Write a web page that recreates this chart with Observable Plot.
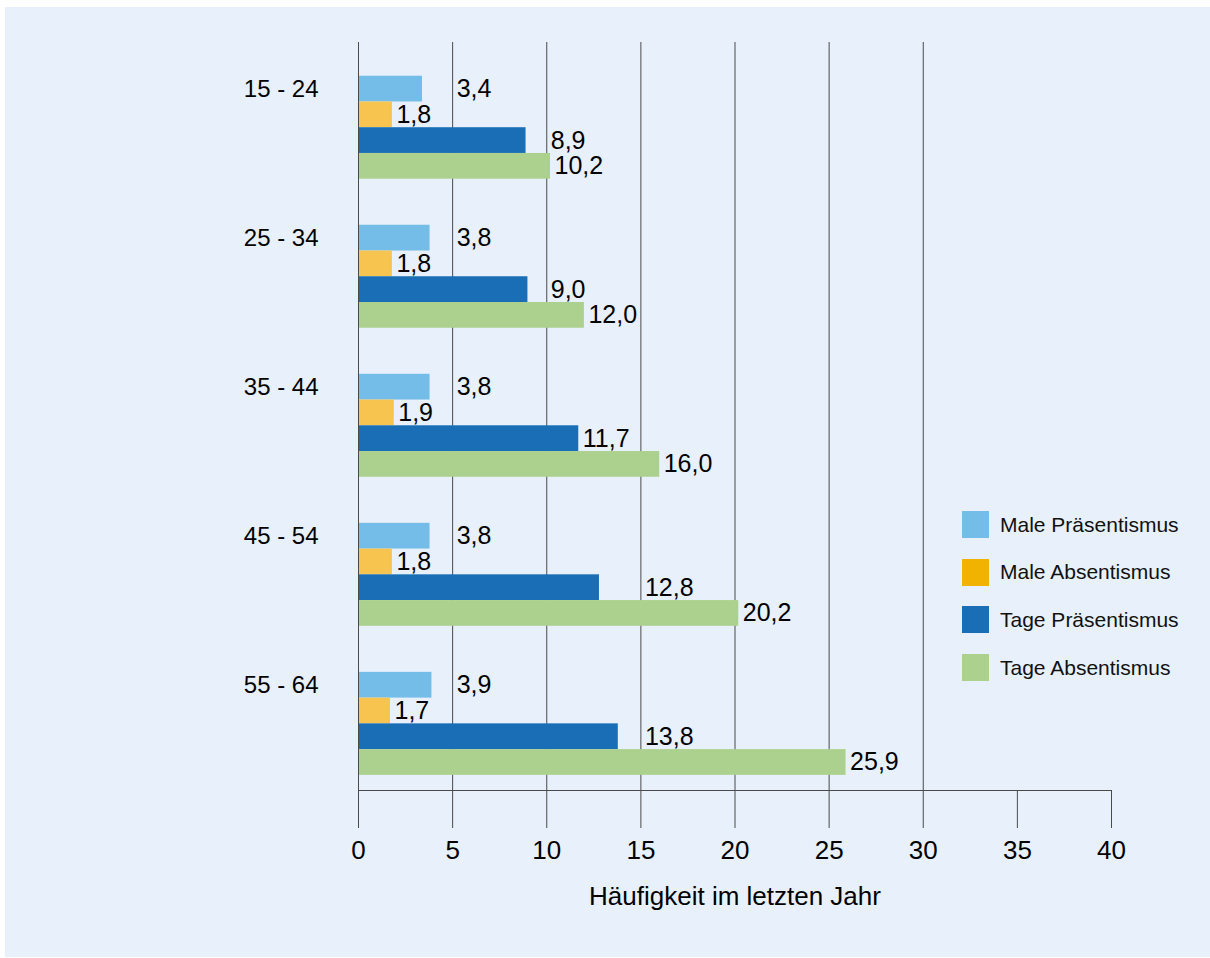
<!DOCTYPE html>
<html>
<head>
<meta charset="utf-8">
<script src="https://cdn.jsdelivr.net/npm/d3@7"></script>
<script src="https://cdn.jsdelivr.net/npm/@observablehq/plot@0.6"></script>
<style>
  html, body { margin: 0; padding: 0; background: #ffffff; }
  #wrap { position: relative; width: 1210px; height: 958px; font-family: "Liberation Sans", Arial, sans-serif; }
  #bg { position: absolute; left: 5px; top: 7px; width: 1205px; height: 950px; background: #e7f0fb; }
  #chart { position: absolute; left: 0; top: 0; }
  #chart svg { background: transparent; }
  #chart svg line, #chart svg path { stroke: #4a4a4a; }
  #legend { position: absolute; left: 962px; top: 511px; }
  .row { display: flex; align-items: center; height: 27px; margin-bottom: 20.7px; font-size: 21px; color: #111; }
  .sw { width: 27px; height: 27px; margin-right: 11px; }
</style>
</head>
<body>
<div id="wrap">
  <div id="bg"></div>
  <div id="chart"></div>
  <div id="legend"></div>
</div>
<script>
// ---- data ----
const groups = ["15 - 24", "25 - 34", "35 - 44", "45 - 54", "55 - 64"];
const seriesNames = ["Male Präsentismus", "Male Absentismus", "Tage Präsentismus", "Tage Absentismus"];
const malePraesentismus = [3.4, 3.8, 3.8, 3.8, 3.9];
const maleAbsentismus = [1.8, 1.8, 1.9, 1.8, 1.7];
const tagePraesentismus = [8.9, 9.0, 11.7, 12.8, 13.8];
const tageAbsentismus = [10.2, 12.0, 16.0, 20.2, 25.9];
const xTicks = [0, 5, 10, 15, 20, 25, 30, 35, 40];
const gridValues = [5, 10, 15, 20, 25, 30];
const barColors = ["#74bde8", "#f6c44f", "#1a6eb6", "#acd18e"];
const legendColors = ["#74bde8", "#f2b300", "#1a6eb6", "#acd18e"];
const xTitle = "Häufigkeit im letzten Jahr";

const seriesValues = [malePraesentismus, maleAbsentismus, tagePraesentismus, tageAbsentismus];

// ---- layout ----
const width = 1210, height = 958;
const marginLeft = 358, marginRight = 99, marginTop = 42, marginBottom = 168;
const paddingInner = 0.309, paddingOuter = 0.164, align = 0.69;
const rangeH = height - marginTop - marginBottom;
const step = rangeH / (groups.length - paddingInner + 2 * paddingOuter);
const bw = step * (1 - paddingInner);
const h = bw / seriesNames.length;
const ppu = (width - marginLeft - marginRight) / 40; // pixels per unit
const labelFont = 25;

const fmt = v => v.toFixed(1).replace(".", ",");
function textWidthPx(s) {
  let w = 0;
  for (const c of s) w += (c === "," ? 0.278 : 0.556);
  return w * labelFont;
}

const rows = [];
seriesValues.forEach((vals, i) => {
  vals.forEach((v, j) => {
    const label = fmt(v);
    const wUnits = textWidthPx(label) / ppu;
    let start = v + 4 / ppu;
    for (const g of gridValues) {
      if (g > start - 0.05 && g < start + wUnits) { start = g + 4 / ppu; break; }
    }
    rows.push({group: groups[j], series: seriesNames[i], si: i, value: v, label, lx: start});
  });
});

const marks = [
  Plot.ruleX(gridValues, {x: d => d, stroke: "#4a4a4a"}),
];
seriesNames.forEach((s, i) => {
  marks.push(Plot.barX(rows.filter(d => d.si === i), {
    x: "value", y: "group", fill: barColors[i],
    insetTop: i * h, insetBottom: (seriesNames.length - 1 - i) * h
  }));
});
marks.push(Plot.ruleX([0], {x: d => d, stroke: "#4a4a4a"}));
seriesNames.forEach((s, i) => {
  marks.push(Plot.text(rows.filter(d => d.si === i), {
    x: "lx", y: "group", text: "label", textAnchor: "start",
    dy: -bw / 2 + (i + 0.5) * h, fontSize: labelFont, fill: "#000"
  }));
});
// category labels
marks.push(Plot.text(groups, {
  y: d => d, text: d => d, frameAnchor: "left", textAnchor: "end",
  dx: -40, dy: -bw / 2 + h / 2, fontSize: 24, fill: "#000"
}));
// axis title
marks.push(Plot.text([xTitle], {
  text: d => d, frameAnchor: "bottom", dy: 114, fontSize: 26, fill: "#000"
}));

const chart = Plot.plot({
  width, height, marginLeft, marginRight, marginTop, marginBottom,
  style: {fontFamily: "Liberation Sans, Arial, sans-serif", fontSize: "26px", color: "#000", background: "transparent", overflow: "visible"},
  x: {domain: [0, 40], ticks: xTicks, tickFormat: d => String(d), tickSize: 38, tickPadding: 12, line: true, label: null},
  y: {domain: groups, paddingInner, paddingOuter, align, round: false, axis: null},
  marks
});
document.getElementById("chart").appendChild(chart);

// legend
const legend = document.getElementById("legend");
seriesNames.forEach((s, i) => {
  const row = document.createElement("div");
  row.className = "row";
  const sw = document.createElement("div");
  sw.className = "sw";
  sw.style.background = legendColors[i];
  const t = document.createElement("span");
  t.textContent = s;
  row.appendChild(sw); row.appendChild(t);
  legend.appendChild(row);
});
</script>
</body>
</html>
